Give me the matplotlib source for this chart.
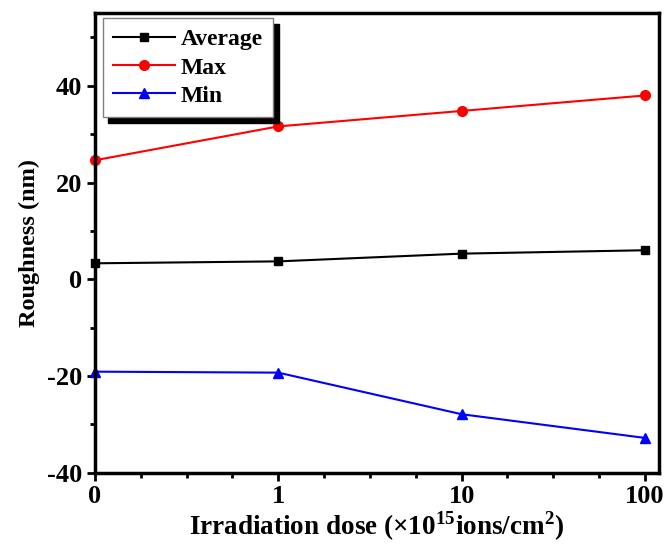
import matplotlib
matplotlib.use("Agg")
import matplotlib.pyplot as plt
from matplotlib.ticker import MultipleLocator, FixedLocator

plt.rcParams['font.family'] = ['Liberation Serif', 'DejaVu Serif']
plt.rcParams['font.weight'] = 'bold'
plt.rcParams['axes.unicode_minus'] = False
plt.rcParams['mathtext.fontset'] = 'custom'
plt.rcParams['mathtext.rm'] = 'Liberation Serif:bold'
plt.rcParams['mathtext.bf'] = 'Liberation Serif:bold'

dose_labels = ['0', '1', '10', '100']
average = [3.3, 3.7, 5.3, 6.0]
maximum = [24.6, 31.6, 34.8, 38.0]
minimum = [-19.1, -19.3, -27.9, -32.8]

x = list(range(len(dose_labels)))

fig = plt.figure(figsize=(6.68, 5.51), dpi=100)
ax = fig.add_axes([0.142, 0.142, 0.845, 0.834])

ax.plot(x, average, color='black', marker='s', markersize=6, lw=1.5, label='Average', clip_on=False)
ax.plot(x, maximum, color='red', marker='o', markersize=7, lw=1.5, label='Max', clip_on=False)
ax.plot(x, minimum, color='blue', marker='^', markersize=7, lw=1.5, label='Min', clip_on=False)

ax.set_xlim(0, 3.078)
ax.set_ylim(-40, 55)
ax.set_xticks(x)
ax.set_xticklabels(dose_labels)
ax.xaxis.set_minor_locator(FixedLocator([i * 0.25 for i in range(13) if i % 4 != 0]))
ax.yaxis.set_major_locator(MultipleLocator(20))
ax.yaxis.set_minor_locator(MultipleLocator(10))

for s in ax.spines.values():
    s.set_linewidth(2.5)
ax.tick_params(axis='both', which='major', direction='out', length=6, width=2, labelsize=19, pad=3)
ax.tick_params(axis='both', which='minor', direction='out', length=3.5, width=2)
ax.tick_params(top=False, right=False, which='both')
for lab in ax.get_xticklabels() + ax.get_yticklabels():
    lab.set_fontweight('bold')

ax.set_ylabel('Roughness (nm)', fontsize=17.5, fontweight='bold', labelpad=5)
ax.set_xlabel(r'Irradiation dose ($\times$10$^{15}$ions/cm$^{2}$)', fontsize=19.5, fontweight='bold', labelpad=1)

leg = ax.legend(loc='upper left', bbox_to_anchor=(0.014, 0.989), borderaxespad=0, fancybox=False,
                shadow={'ox': 4, 'oy': -4, 'color': 'black', 'alpha': 1},
                edgecolor='gray', framealpha=1, handlelength=2.6,
                prop={'family': 'Liberation Serif', 'weight': 'bold', 'size': 17},
                borderpad=0.45, labelspacing=0.28, handletextpad=0.25)
leg.get_frame().set_linewidth(1.0)

fig.savefig('out.png', dpi=100)
